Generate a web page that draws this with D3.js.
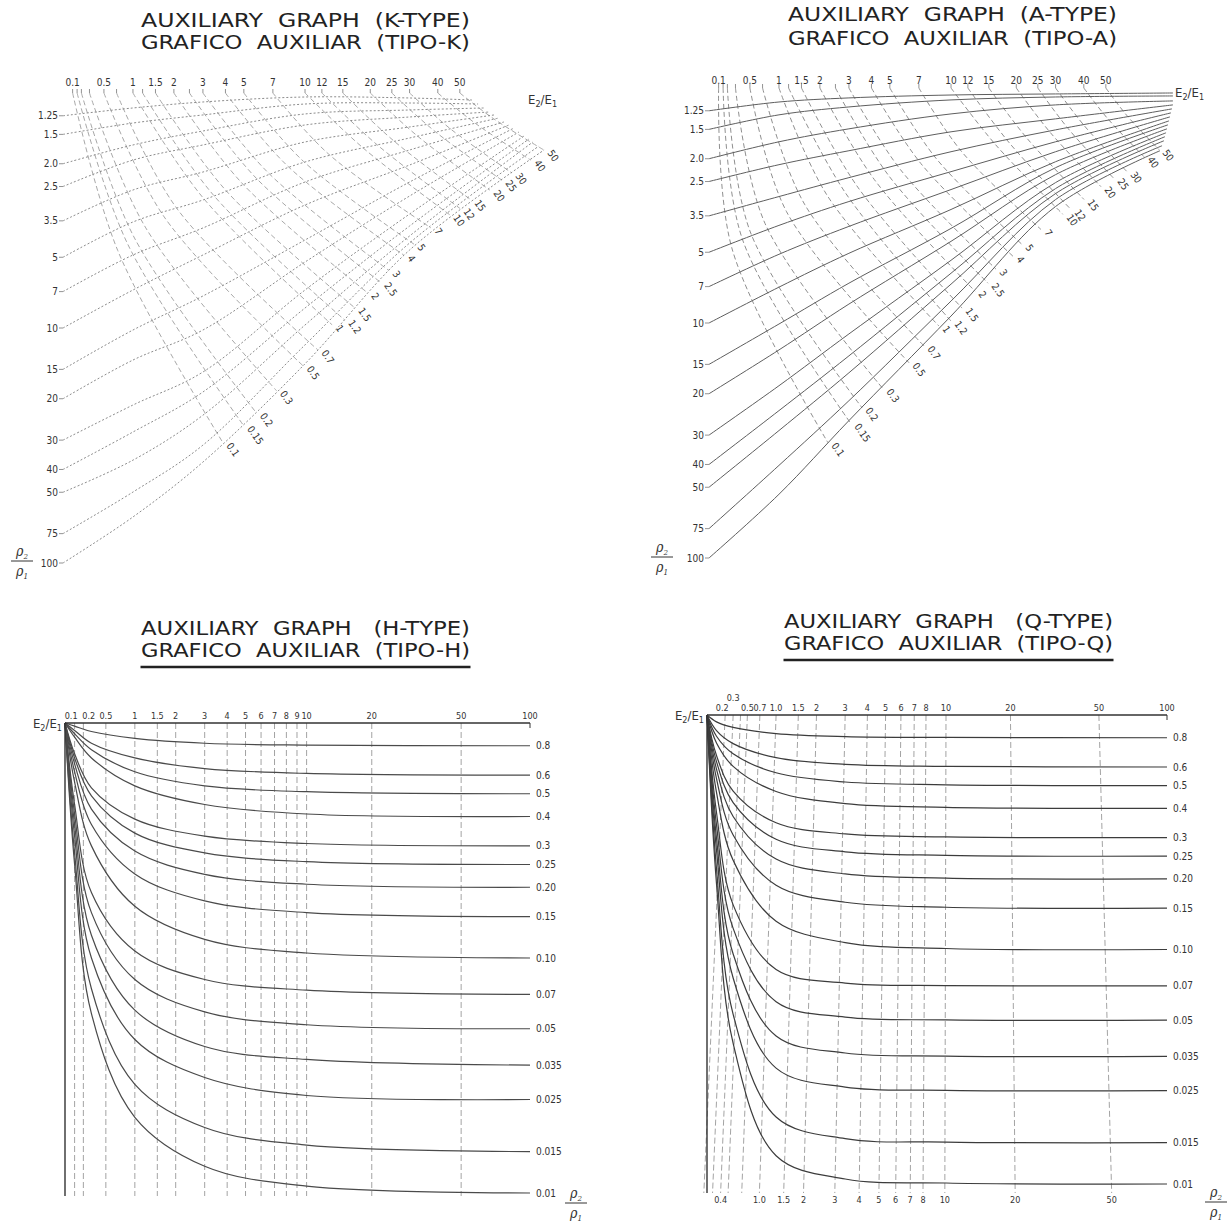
<!DOCTYPE html>
<html>
<head>
<meta charset="utf-8">
<title>Auxiliary graphs</title>
<script src="https://cdn.jsdelivr.net/npm/d3@7"></script>
<style>
  body { margin: 0; background: #fff; }
  svg { display: block; font-family: "DejaVu Sans Condensed", "DejaVu Sans", sans-serif; font-stretch: condensed; }
  .lbl { font-size: 10px; fill: #333; }
  .small { font-size: 9px; fill: #333; }
  .title { font-size: 20px; fill: #222; white-space: pre; }
</style>
</head>
<body>
<svg id="chart" width="1229" height="1226"></svg>
<script>
// ---------- data ----------

// top graphs: rho2/rho1 curves start on the left, E2/E1 curves start on the top
const rhoValues = [1.25, 1.5, 2, 2.5, 3.5, 5, 7, 10, 15, 20, 30, 40, 50, 75, 100];
const rhoLabels = ["1.25", "1.5", "2.0", "2.5", "3.5", "5", "7", "10", "15", "20", "30", "40", "50", "75", "100"];
const eValues = [0.1, 0.15, 0.2, 0.3, 0.5, 0.7, 1, 1.2, 1.5, 2, 2.5, 3, 4, 5, 7, 10, 12, 15, 20, 25, 30, 40, 50];
const eTopLabels = [0.1, 0.5, 1, 1.5, 2, 3, 4, 5, 7, 10, 12, 15, 20, 25, 30, 40, 50];
const rhoSampleX = [0, 1, 3, 10, 30];

// K-type: rho curve heights at rhoSampleX, then where each curve stops
const kRhoY = [
  [1.25, 1.158, 1.092, 1.04, 1.05],
  [1.5, 1.342, 1.24, 1.114, 1.103],
  [2, 1.664, 1.451, 1.228, 1.181],
  [2.5, 1.93, 1.664, 1.368, 1.265],
  [3.5, 2.587, 2.169, 1.616, 1.395],
  [5, 3.539, 2.853, 1.966, 1.554],
  [7, 4.891, 3.753, 2.392, 1.748],
  [10, 6.892, 4.891, 2.997, 2.025],
  [15, 10.2, 7.309, 4.222, 2.392],
  [20, 13.69, 10.2, 5.239, 2.744],
  [30, 21.27, 15.39, 6.892, 3.273],
  [40, 27.71, 18.72, 8.222, 3.681],
  [50, 36.5, 23.5, 9.71, 4.059],
  [75, 49.9, 31.5, 11.8, 4.348],
  [100, 63.7, 37.2, 14.2, 4.658]
];
const kRhoEnd = [[56.5, 1.071], [60.1, 1.114], [63.9, 1.158], [67.1, 1.205], [70.6, 1.24], [74.2, 1.277], [78, 1.328], [82, 1.368],
  [86.3, 1.409], [90.6, 1.466], [95.4, 1.524], [100.2, 1.569], [104.2, 1.616], [110.7, 1.681], [116.5, 1.748]];
const kEMid = [[0.72, 4.68], [0.889, 4.35], [1.02, 4.1], [1.26, 3.72], [1.71, 3.34], [2.09, 3.1], [2.99, 2.78], [3.44, 2.72],
  [3.99, 2.58], [4.88, 2.415], [5.8, 2.31], [6.62, 2.18], [8.28, 2.05], [9.83, 1.954], [12.84, 1.813], [18.54, 1.712],
  [21.47, 1.661], [25.59, 1.603], [32.76, 1.534], [39.24, 1.468], [45.55, 1.423], [58.33, 1.344], [70.19, 1.286]];
const kEEnd = [[3.88, 30.8], [5.0, 26.1], [5.8, 23.0], [7.3, 18.5], [9.8, 14.5], [11.5, 12.4], [13.4, 9.7], [15.3, 9.25],
  [17, 8.2], [19.5, 7.1], [22.3, 6.4], [24.3, 5.7], [28.3, 4.9], [31.4, 4.4], [37.3, 3.75], [45.2, 3.3],
  [50.1, 3.1], [56, 2.85], [67.7, 2.59], [76.4, 2.35], [84.5, 2.19], [102, 1.93], [116.5, 1.75]];

// A-type
const aRhoY = [
  [1.25, 1.147, 1.102, 1.071, 1.06],
  [1.5, 1.301, 1.204, 1.124, 1.092],
  [2, 1.694, 1.492, 1.289, 1.18],
  [2.5, 2.12, 1.849, 1.536, 1.353],
  [3.5, 2.897, 2.407, 1.867, 1.507],
  [5, 3.843, 3.042, 2.27, 1.694],
  [7, 5.101, 3.881, 2.705, 1.867],
  [10, 7.038, 5.051, 3.288, 2.059],
  [15, 10.1, 6.77, 3.958, 2.183],
  [20, 13.02, 8.307, 4.493, 2.337],
  [30, 18.49, 11.13, 5.409, 2.526],
  [40, 23.6, 13.8, 6.141, 2.679],
  [50, 28.69, 16.29, 6.834, 2.813],
  [75, 40.36, 21.41, 8.067, 2.983],
  [100, 53.56, 26.02, 9.34, 3.193]
];
const aRhoEnd = [[98.2, 1.05], [98.2, 1.081], [98.2, 1.135], [98.2, 1.18], [97.2, 1.227], [96.2, 1.276], [95.3, 1.327], [94.4, 1.38],
  [93.4, 1.435], [92.5, 1.492], [91.6, 1.551], [90.6, 1.612], [89.7, 1.677], [88, 1.761], [86.2, 1.849]];
const aEMid = [[0.252, 4.77], [0.391, 4.39], [0.506, 4.1], [0.742, 3.77], [1.156, 3.36], [1.576, 3.12], [2.219, 2.857], [2.864, 2.794],
  [3.364, 2.64], [4.14, 2.449], [4.94, 2.364], [5.66, 2.223], [7.17, 2.099], [8.49, 1.994], [11.22, 1.865], [16.14, 1.747],
  [18.56, 1.708], [22.33, 1.635], [28.38, 1.545], [34.16, 1.491], [40.17, 1.446], [51.04, 1.353], [61.95, 1.313]];
const aEEnd = [[2.25, 32.3], [3.08, 26.8], [3.55, 22.9], [4.61, 19.05], [6.26, 14.77], [7.42, 12.52], [8.76, 10.3], [10.0, 9.81],
  [11.27, 8.64], [12.95, 7.32], [14.87, 6.77], [16.18, 5.9], [19.33, 5.2], [21.23, 4.63], [25.83, 4.0], [32.36, 3.45],
  [35.12, 3.29], [40.08, 2.98], [47.61, 2.63], [54.3, 2.43], [61.9, 2.27], [73.4, 1.96], [85.4, 1.83]];

// lower graphs: E2/E1 against rho2/rho1
const curveValues = [0.8, 0.6, 0.5, 0.4, 0.3, 0.25, 0.2, 0.15, 0.1, 0.07, 0.05, 0.035, 0.025, 0.015, 0.01];
const curveLabels = ["0.8", "0.6", "0.5", "0.4", "0.3", "0.25", "0.20", "0.15", "0.10", "0.07", "0.05", "0.035", "0.025", "0.015", "0.01"];
const curveSampleX = [0, 0.1, 0.3, 1, 3, 10, 100];

const hCurves = [
  [1, 0.97, 0.92, 0.86, 0.82, 0.805, 0.8],
  [1, 0.93, 0.82, 0.71, 0.64, 0.61, 0.6],
  [1, 0.9, 0.77, 0.62, 0.54, 0.51, 0.5],
  [1, 0.87, 0.71, 0.54, 0.45, 0.41, 0.4],
  [1, 0.74, 0.53, 0.39, 0.33, 0.307, 0.3],
  [1, 0.71, 0.49, 0.34, 0.28, 0.257, 0.25],
  [1, 0.67, 0.43, 0.285, 0.227, 0.206, 0.2],
  [1, 0.62, 0.37, 0.228, 0.175, 0.156, 0.15],
  [1, 0.56, 0.3, 0.166, 0.12, 0.105, 0.1],
  [1, 0.45, 0.19, 0.107, 0.081, 0.073, 0.07],
  [1, 0.41, 0.156, 0.081, 0.059, 0.052, 0.05],
  [1, 0.37, 0.125, 0.06, 0.042, 0.037, 0.035],
  [1, 0.33, 0.1, 0.045, 0.031, 0.026, 0.025],
  [1, 0.28, 0.074, 0.029, 0.019, 0.016, 0.015],
  [1, 0.25, 0.058, 0.021, 0.013, 0.0107, 0.01]
];
const hTicks = [0.1, 0.2, 0.5, 1, 1.5, 2, 3, 4, 5, 6, 7, 8, 9, 10, 20, 50, 100];
const hTickLabels = ["0.1", "0.2", "0.5", "1", "1.5", "2", "3", "4", "5", "6", "7", "8", "9", "10", "20", "50", "100"];

const qCurves = [
  [1, 0.935, 0.885, 0.833, 0.809, 0.802, 0.8],
  [1, 0.858, 0.755, 0.658, 0.616, 0.604, 0.6],
  [1, 0.812, 0.683, 0.567, 0.518, 0.504, 0.5],
  [1, 0.76, 0.604, 0.472, 0.419, 0.404, 0.4],
  [1, 0.672, 0.474, 0.347, 0.311, 0.302, 0.3],
  [1, 0.633, 0.423, 0.295, 0.261, 0.252, 0.25],
  [1, 0.588, 0.369, 0.243, 0.21, 0.2016, 0.2],
  [1, 0.535, 0.308, 0.188, 0.159, 0.1514, 0.15],
  [1, 0.468, 0.24, 0.132, 0.107, 0.101, 0.1],
  [1, 0.384, 0.155, 0.0821, 0.0719, 0.0702, 0.07],
  [1, 0.34, 0.123, 0.0599, 0.0515, 0.0501, 0.05],
  [1, 0.299, 0.0957, 0.0428, 0.0362, 0.0351, 0.035],
  [1, 0.265, 0.0756, 0.0312, 0.0259, 0.0251, 0.025],
  [1, 0.221, 0.0529, 0.0193, 0.0156, 0.0151, 0.015],
  [1, 0.191, 0.0398, 0.0132, 0.0105, 0.0101, 0.01]
];
const qTopTicks = [0.2, 0.3, 0.5, 0.7, 1, 1.5, 2, 3, 4, 5, 6, 7, 8, 10, 20, 50, 100];
const qTopLabels = ["0.2", "0.3", "0.5", "0.7", "1.0", "1.5", "2", "3", "4", "5", "6", "7", "8", "10", "20", "50", "100"];
const qBottomTicks = [0.4, 1, 1.5, 2, 3, 4, 5, 6, 7, 8, 10, 20, 50];
const qBottomLabels = ["0.4", "1.0", "1.5", "2", "3", "4", "5", "6", "7", "8", "10", "20", "50"];

// ---------- drawing ----------
const svg = d3.select("#chart");

const kX = d3.scaleSymlog().constant(1).domain([0, 100]).range([63, 528.8]);
const kY = d3.scaleLog().domain([1, 100]).range([93, 563]);
const aX = d3.scaleSymlog().constant(1).domain([0, 100]).range([709, 1174.8]);
const aY = d3.scaleLog().domain([1, 100]).range([88, 558]);
const hX = d3.scaleSymlog().constant(1).domain([0, 100]).range([65, 530]);
const hY = d3.scaleLog().domain([1, 0.01]).range([723, 1193]);
const qXTop = d3.scaleSymlog().constant(1).domain([0, 100]).range([707, 1167]);
const qXBot = d3.scaleSymlog().constant(1).domain([0, 100]).range([684, 1186]);
const qY = d3.scaleLog().domain([1, 0.01]).range([715, 1184]);

function title(cx, lines, baselines, underlineY) {
  lines.forEach((t, i) => {
    svg.append("text").attr("class", "title")
      .attr("x", cx - 164.5).attr("y", baselines[i])
      .attr("textLength", 329).attr("lengthAdjust", "spacingAndGlyphs")
      .text(t);
  });
  if (underlineY) {
    svg.append("line").attr("x1", cx - 165).attr("x2", cx + 165)
      .attr("y1", underlineY).attr("y2", underlineY)
      .attr("stroke", "#222").attr("stroke-width", 2.5);
  }
}

function eRatio(x, y, anchor) {
  const t = svg.append("text").attr("x", x).attr("y", y).attr("text-anchor", anchor)
    .style("font-size", "13px").attr("fill", "#333");
  t.append("tspan").text("E");
  t.append("tspan").attr("dy", 3).style("font-size", "9px").text("2");
  t.append("tspan").attr("dy", -3).text("/E");
  t.append("tspan").attr("dy", 3).style("font-size", "9px").text("1");
}

function rhoFraction(cx, y) {
  const g = svg.append("g").attr("fill", "#333")
    .style("font-family", "'DejaVu Serif', serif").style("font-style", "italic");
  const top = g.append("text").attr("x", cx).attr("y", y).attr("text-anchor", "middle").style("font-size", "14px");
  top.append("tspan").text("ρ");
  top.append("tspan").attr("dy", 3).style("font-size", "8px").text("2");
  g.append("line").attr("x1", cx - 11).attr("x2", cx + 11).attr("y1", y + 5).attr("y2", y + 5)
    .attr("stroke", "#333").attr("stroke-width", 1);
  const bot = g.append("text").attr("x", cx).attr("y", y + 20).attr("text-anchor", "middle").style("font-size", "14px");
  bot.append("tspan").text("ρ");
  bot.append("tspan").attr("dy", 3).style("font-size", "8px").text("1");
}

function drawTopPanel(p) {
  const g = svg.append("g");
  const line = d3.line().x(d => p.x(d[0])).y(d => p.y(d[1])).curve(d3.curveCatmullRom.alpha(0.5));

  // E2/E1 curves, from the top edge down to the lower boundary
  eValues.forEach((e, i) => {
    const pts = [[e, 1], p.eMid[i], p.eEnd[i]];
    g.append("path").attr("d", line(pts)).attr("fill", "none")
      .attr("stroke", p.eColor).attr("stroke-width", 1).attr("stroke-dasharray", "5,3");
    g.append("line").attr("x1", p.x(e)).attr("x2", p.x(e)).attr("y1", p.y(1) - 4).attr("y2", p.y(1))
      .attr("stroke", "#777").attr("stroke-width", 0.8);
    const ex = p.x(p.eEnd[i][0]), ey = p.y(p.eEnd[i][1]);
    g.append("text").attr("class", "lbl")
      .attr("transform", `translate(${ex + 3},${ey + 3}) rotate(55)`)
      .text(String(e));
  });

  // rho2/rho1 curves, from the left edge to the right
  rhoValues.forEach((r, i) => {
    const pts = rhoSampleX.map((x, j) => [x, p.rhoY[i][j]]).concat([p.rhoEnd[i]]);
    g.append("path").attr("d", line(pts)).attr("fill", "none")
      .attr("stroke", p.rhoColor).attr("stroke-width", p.rhoWidth)
      .attr("stroke-dasharray", p.rhoDash);
    g.append("line").attr("x1", p.x(0) - 4).attr("x2", p.x(0)).attr("y1", p.y(r)).attr("y2", p.y(r))
      .attr("stroke", "#777").attr("stroke-width", 0.8);
    g.append("text").attr("class", "lbl").attr("x", p.x(0) - 5).attr("y", p.y(r))
      .attr("text-anchor", "end").attr("dominant-baseline", "central").text(rhoLabels[i]);
  });

  eTopLabels.forEach(v => {
    g.append("text").attr("class", "lbl").attr("x", p.x(v)).attr("y", p.topLabelY)
      .attr("text-anchor", "middle").text(String(v));
  });
}

function drawLowerPanel(p) {
  const g = svg.append("g");
  const y0 = p.y(1);

  // dashed guide lines for each rho2/rho1 value
  p.guides.forEach(v => {
    g.append("line").attr("x1", p.xTop(v)).attr("x2", p.xBot(v))
      .attr("y1", y0).attr("y2", p.bottom)
      .attr("stroke", "#999").attr("stroke-width", 0.9).attr("stroke-dasharray", "6,3");
  });

  const line = d3.line().x(d => p.xTop(d[0])).y(d => p.y(d[1])).curve(d3.curveCatmullRom.alpha(0.5));
  curveValues.forEach((v, i) => {
    const pts = curveSampleX.map((x, j) => [x, p.curves[i][j]]);
    g.append("path").attr("d", line(pts)).attr("fill", "none")
      .attr("stroke", p.curveColor).attr("stroke-width", 1.2);
    g.append("text").attr("class", "lbl").attr("x", p.xTop(100) + 6).attr("y", p.y(v))
      .attr("dominant-baseline", "central").text(curveLabels[i]);
  });

  // top axis and left edge
  g.append("line").attr("x1", p.xTop(0)).attr("x2", p.xTop(100)).attr("y1", y0).attr("y2", y0)
    .attr("stroke", "#333").attr("stroke-width", 1.4);
  g.append("line").attr("x1", p.xTop(100)).attr("x2", p.xTop(100)).attr("y1", y0).attr("y2", y0 + 5)
    .attr("stroke", "#333").attr("stroke-width", 1);
  g.append("line").attr("x1", p.xTop(0)).attr("x2", p.xTop(0)).attr("y1", y0).attr("y2", p.bottom)
    .attr("stroke", "#333").attr("stroke-width", 1.4);

  p.topTicks.forEach((v, i) => {
    const lab = p.topLabels[i];
    const nudge = p.nudge && p.nudge[lab] ? p.nudge[lab] : [0, 0, "middle"];
    g.append("text").attr("class", "small")
      .attr("x", p.xTop(v) + nudge[0]).attr("y", y0 - 4 + nudge[1])
      .attr("text-anchor", nudge[2]).text(lab);
  });
  if (p.bottomTicks) {
    p.bottomTicks.forEach((v, i) => {
      g.append("text").attr("class", "small").attr("x", p.xBot(v)).attr("y", p.bottom + 10)
        .attr("text-anchor", "middle").text(p.bottomLabels[i]);
    });
  }
}

// titles
title(305.5, ["AUXILIARY  GRAPH  (K-TYPE)", "GRAFICO  AUXILIAR  (TIPO-K)"], [27, 49]);
title(952.5, ["AUXILIARY  GRAPH  (A-TYPE)", "GRAFICO  AUXILIAR  (TIPO-A)"], [21, 45]);
title(305.5, ["AUXILIARY  GRAPH   (H-TYPE)", "GRAFICO  AUXILIAR  (TIPO-H)"], [635, 657], 667);
title(948.5, ["AUXILIARY  GRAPH   (Q-TYPE)", "GRAFICO  AUXILIAR  (TIPO-Q)"], [628, 650], 660);

drawTopPanel({
  x: kX, y: kY, rhoY: kRhoY, rhoEnd: kRhoEnd, eMid: kEMid, eEnd: kEEnd,
  eColor: "#a8a8a8", rhoColor: "#8c8c8c", rhoWidth: 1, rhoDash: "2,2", topLabelY: 86
});
drawTopPanel({
  x: aX, y: aY, rhoY: aRhoY, rhoEnd: aRhoEnd, eMid: aEMid, eEnd: aEEnd,
  eColor: "#8f8f8f", rhoColor: "#5e5e5e", rhoWidth: 1, rhoDash: null, topLabelY: 84
});
eRatio(528, 104, "start");
eRatio(1175, 97, "start");
rhoFraction(22, 556);
rhoFraction(662, 552);

drawLowerPanel({
  xTop: hX, xBot: hX, y: hY, bottom: 1196, curves: hCurves, curveColor: "#4a4a4a",
  guides: hTicks.slice(0, -1), topTicks: hTicks, topLabels: hTickLabels,
  nudge: { "0.1": [3, 0, "end"], "0.2": [-1, 0, "start"] }
});
drawLowerPanel({
  xTop: qXTop, xBot: qXBot, y: qY, bottom: 1193, curves: qCurves, curveColor: "#3c3c3c",
  guides: qTopTicks.slice(0, -1).concat([0.4]), topTicks: qTopTicks, topLabels: qTopLabels,
  nudge: { "0.2": [-3, 0, "middle"], "0.3": [0, -10, "middle"] },
  bottomTicks: qBottomTicks, bottomLabels: qBottomLabels
});
eRatio(62, 728, "end");
eRatio(704, 720, "end");
rhoFraction(576, 1198);
rhoFraction(1216, 1197);
</script>
</body>
</html>
